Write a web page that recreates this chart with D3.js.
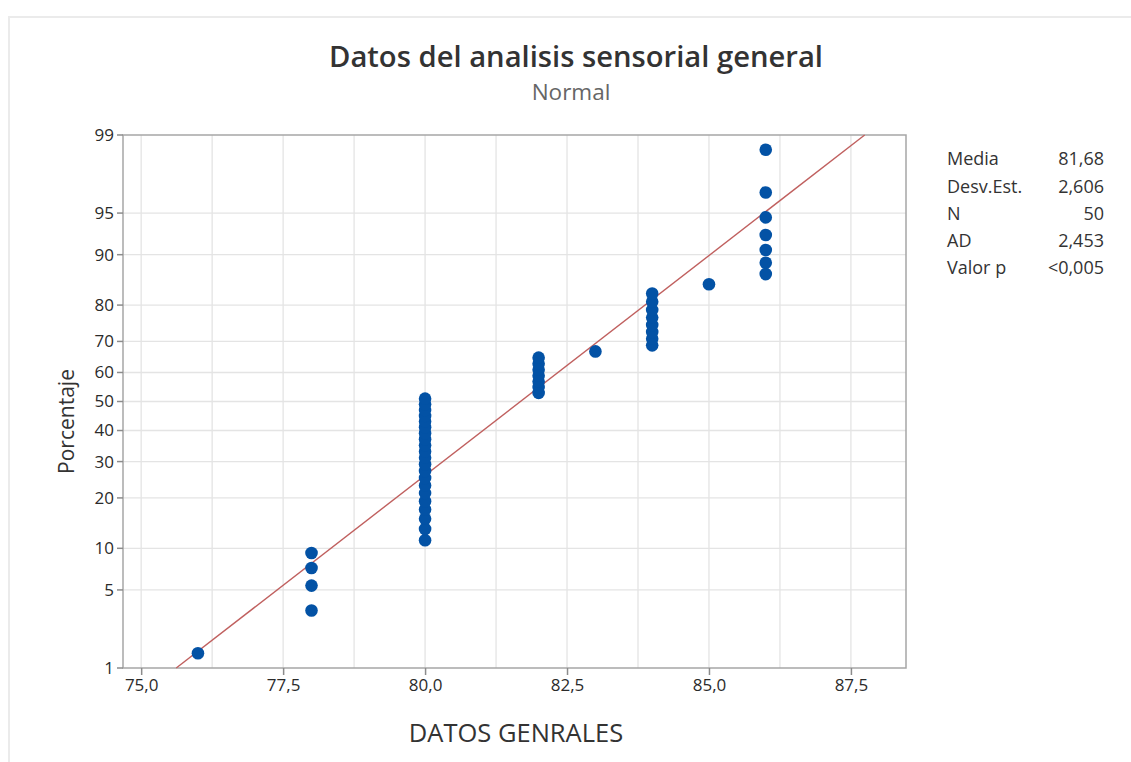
<!DOCTYPE html>
<html>
<head>
<meta charset="utf-8">
<script src="https://cdn.jsdelivr.net/npm/d3@7"></script>
<style>
  body { margin: 0; background: #fff; }
  svg { display: block; font-family: "Open Sans", "Noto Sans", sans-serif; }
</style>
</head>
<body>
<svg id="chart" width="1131" height="762"></svg>
<script>
// data values (sorted) and their plotted percentages
const values = [76,
    78, 78, 78, 78,
    80, 80, 80, 80, 80, 80, 80, 80, 80, 80, 80, 80, 80, 80, 80, 80, 80, 80, 80, 80, 80,
    82, 82, 82, 82, 82, 82, 82,
    83,
    84, 84, 84, 84, 84, 84, 84, 84,
    85,
    86, 86, 86, 86, 86, 86, 86];
const percents = [1.4,
    3.4, 5.4, 7.3, 9.3,
    11.3, 13.3, 15.3, 17.3, 19.2, 21.2, 23.2, 25.2, 27.2, 29.2, 31.2, 33.1, 35.1, 37.1, 39.1, 41.1, 43.1, 45.0, 47.0, 49.0, 51.0,
    53.0, 55.0, 56.9, 58.9, 60.9, 62.9, 64.9,
    66.9,
    68.8, 70.8, 72.8, 74.8, 76.8, 78.8, 80.8, 82.7,
    84.7,
    86.7, 88.7, 90.7, 92.7, 94.6, 96.6, 98.6];
const yTicks = [1, 5, 10, 20, 30, 40, 50, 60, 70, 80, 90, 95, 99];
const xTicks = [75, 77.5, 80, 82.5, 85, 87.5];
const xGrid = [75, 76.25, 77.5, 78.75, 80, 81.25, 82.5, 83.75, 85, 86.25, 87.5];
const mean = 81.68, stdev = 2.606;
const statLabels = ["Media", "Desv.Est.", "N", "AD", "Valor p"];
const statValues = ["81,68", "2,606", "50", "2,453", "<0,005"];

// inverse normal cdf (Acklam)
function qnorm(p) {
    const a = [-3.969683028665376e+01, 2.209460984245205e+02, -2.759285104469687e+02, 1.383577518672690e+02, -3.066479806614716e+01, 2.506628277459239e+00];
    const b = [-5.447609879822406e+01, 1.615858368580409e+02, -1.556989798598866e+02, 6.680131188771972e+01, -1.328068155288572e+01];
    const c = [-7.784894002430293e-03, -3.223964580411365e-01, -2.400758277161838e+00, -2.549732539343734e+00, 4.374664141464968e+00, 2.938163982698783e+00];
    const d = [7.784695709041462e-03, 3.224671290700398e-01, 2.445134137142996e+00, 3.754408661907416e+00];
    const pl = 0.02425;
    let q, r;
    if (p < pl) {
        q = Math.sqrt(-2 * Math.log(p));
        return (((((c[0]*q+c[1])*q+c[2])*q+c[3])*q+c[4])*q+c[5]) / ((((d[0]*q+d[1])*q+d[2])*q+d[3])*q+1);
    } else if (p <= 1 - pl) {
        q = p - 0.5; r = q * q;
        return (((((a[0]*r+a[1])*r+a[2])*r+a[3])*r+a[4])*r+a[5])*q / (((((b[0]*r+b[1])*r+b[2])*r+b[3])*r+b[4])*r+1);
    } else {
        q = Math.sqrt(-2 * Math.log(1 - p));
        return -(((((c[0]*q+c[1])*q+c[2])*q+c[3])*q+c[4])*q+c[5]) / ((((d[0]*q+d[1])*q+d[2])*q+d[3])*q+1);
    }
}

const svg = d3.select("#chart");
const plot = {left: 123, right: 906, top: 135, bottom: 668};
const fmt1 = d => d.toFixed(1).replace(".", ",");

const x = d3.scaleLinear().domain([74.68, 88.47]).range([plot.left, plot.right]);
const zScale = d3.scaleLinear().domain([qnorm(0.01), qnorm(0.99)]).range([plot.bottom, plot.top]);
const y = p => zScale(qnorm(p / 100));

// outer frame
svg.append("path")
    .attr("d", `M9,762 V17 H1131`)
    .attr("fill", "none")
    .attr("stroke", "#ebebeb")
    .attr("stroke-width", 2);

// grid
svg.append("g").selectAll("line")
    .data(xGrid)
    .join("line")
    .attr("x1", d => x(d)).attr("x2", d => x(d))
    .attr("y1", plot.top).attr("y2", plot.bottom)
    .attr("stroke", "#e4e4e4").attr("stroke-width", 1.3);

svg.append("g").selectAll("line")
    .data(yTicks.slice(1, -1))
    .join("line")
    .attr("x1", plot.left).attr("x2", plot.right)
    .attr("y1", d => y(d)).attr("y2", d => y(d))
    .attr("stroke", "#e4e4e4").attr("stroke-width", 1.3);

// frame
svg.append("rect")
    .attr("x", plot.left).attr("y", plot.top)
    .attr("width", plot.right - plot.left).attr("height", plot.bottom - plot.top)
    .attr("fill", "none").attr("stroke", "#a6a6a6").attr("stroke-width", 1.5);

// y axis (probability scale)
const gy = svg.append("g").attr("transform", `translate(${plot.left},0)`);
gy.selectAll(".tk").data(yTicks).join("g").attr("class", "tk")
    .attr("transform", d => `translate(0,${y(d)})`)
    .each(function (d) {
        const t = d3.select(this);
        t.append("line").attr("x1", -6).attr("x2", 0).attr("stroke", "#8c8c8c").attr("stroke-width", 1.5);
        t.append("text").attr("x", -9).attr("dy", "0.35em").attr("text-anchor", "end")
            .attr("font-size", 17).attr("fill", "#2b2b2b").text(d);
    });

const gx = svg.append("g")
    .attr("transform", `translate(0,${plot.bottom})`)
    .call(d3.axisBottom(x).tickValues(xTicks).tickFormat(fmt1).tickSize(7).tickPadding(4));
gx.select(".domain").remove();
gx.selectAll(".tick line").attr("stroke", "#8c8c8c").attr("stroke-width", 1.5);
gx.selectAll(".tick text").attr("font-size", 17).attr("fill", "#2b2b2b")
    .attr("font-family", "'Open Sans', sans-serif");

// fitted line
const lineP = [1, 99];
svg.append("line")
    .attr("x1", x(mean + stdev * qnorm(lineP[0] / 100))).attr("y1", y(lineP[0]))
    .attr("x2", x(mean + stdev * qnorm(lineP[1] / 100))).attr("y2", y(lineP[1]))
    .attr("stroke", "#c0605f").attr("stroke-width", 1.4);

// points
svg.append("g").selectAll("circle")
    .data(values.map((v, i) => ({v, p: percents[i]})))
    .join("circle")
    .attr("cx", d => x(d.v))
    .attr("cy", d => y(d.p))
    .attr("r", 6.3)
    .attr("fill", "#0352a5");

// titles
svg.append("text")
    .attr("x", 576).attr("y", 67)
    .attr("text-anchor", "middle")
    .attr("font-size", 29.2).attr("font-weight", 600).attr("fill", "#333")
    .text("Datos del analisis sensorial general");
svg.append("text")
    .attr("x", 571).attr("y", 100)
    .attr("text-anchor", "middle")
    .attr("font-size", 22.5).attr("fill", "#666")
    .text("Normal");

svg.append("text")
    .attr("transform", `translate(74,${(plot.top + plot.bottom) / 2 + 20}) rotate(-90)`)
    .attr("text-anchor", "middle")
    .attr("font-size", 21).attr("fill", "#333")
    .text("Porcentaje");

svg.append("text")
    .attr("x", 516).attr("y", 742)
    .attr("text-anchor", "middle")
    .attr("font-size", 25.5).attr("fill", "#333")
    .text("DATOS GENRALES");

// stats box
const stats = svg.append("g").attr("font-size", 18).attr("fill", "#333");
stats.selectAll(".lab").data(statLabels).join("text").attr("class", "lab")
    .attr("x", 947).attr("y", (d, i) => 159 + i * 27.2).attr("dy", "0.35em")
    .text(d => d);
stats.selectAll(".val").data(statValues).join("text").attr("class", "val")
    .attr("x", 1104).attr("y", (d, i) => 159 + i * 27.2).attr("dy", "0.35em")
    .attr("text-anchor", "end")
    .text(d => d);
</script>
</body>
</html>
